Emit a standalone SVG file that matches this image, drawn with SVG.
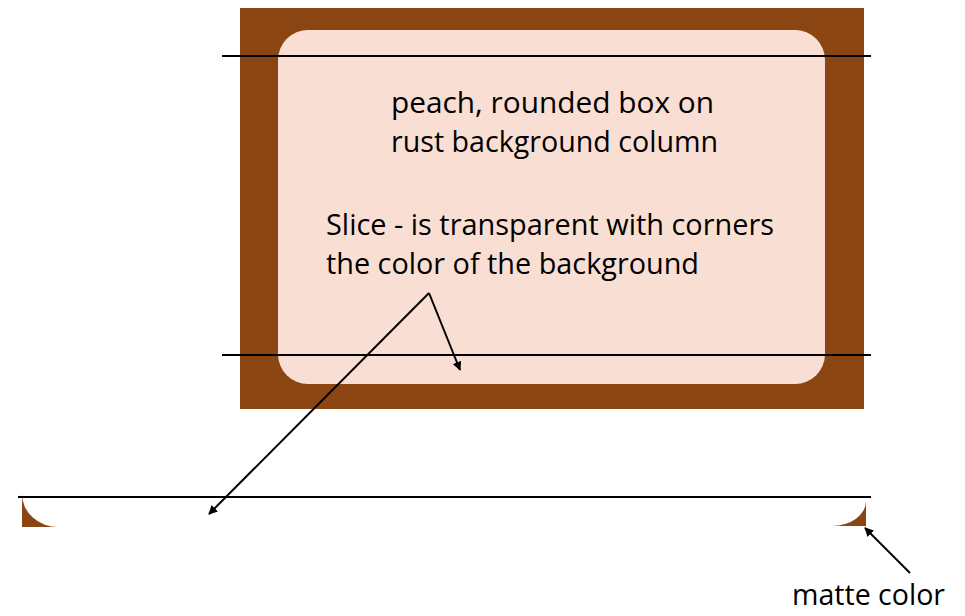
<svg xmlns="http://www.w3.org/2000/svg" width="965" height="616" viewBox="0 0 965 616">
  <defs>
    <style>
      .rust { fill: #8B4513; }
      .peach { fill: #F9DED3; }
      .rule { stroke: #000; stroke-width: 2; fill: none; }
      .arrow { stroke: #000; stroke-width: 2; fill: none; marker-end: url(#head); }
      .label { font-family: "Open Sans", "Liberation Sans", Arial, sans-serif; font-size: 29px; fill: #000; }
    </style>
    <marker id="head" viewBox="0 0 10 10" refX="9" refY="5" markerWidth="9" markerHeight="9" markerUnits="userSpaceOnUse" orient="auto">
      <path d="M0,0 L10,5 L0,10 z" fill="#000"/>
    </marker>
  </defs>

  <!-- rust background column with the peach rounded box -->
  <g id="column">
    <rect class="rust" x="240" y="8" width="624" height="401"/>
    <rect class="peach" x="278" y="30" width="547" height="354" rx="30" ry="30"/>
  </g>

  <!-- slice strip: transparent with matte corners -->
  <g id="slice-corners">
    <path class="rust" d="M22,494 L22,527 L58,527 A36,33 0 0 1 22,494 Z"/>
    <path class="rust" d="M866,501 L866,526 L832,526 A34,25 0 0 0 866,501 Z"/>
  </g>

  <g id="guides">
    <line class="rule" x1="222" y1="56" x2="871" y2="56"/>
    <line class="rule" x1="222" y1="355" x2="871" y2="355"/>
    <line class="rule" x1="18" y1="497" x2="871" y2="497"/>
  </g>

  <g id="text-box">
    <text class="label" x="391" y="113" textLength="323" lengthAdjust="spacingAndGlyphs">peach, rounded box on</text>
    <text class="label" x="391" y="152" textLength="327" lengthAdjust="spacingAndGlyphs">rust background column</text>
  </g>

  <g id="text-slice">
    <text class="label" x="326" y="235" textLength="448" lengthAdjust="spacingAndGlyphs">Slice - is transparent with corners</text>
    <text class="label" x="326" y="274" textLength="373" lengthAdjust="spacingAndGlyphs">the color of the background</text>
  </g>

  <g id="text-matte">
    <text class="label" x="792" y="605" textLength="153" lengthAdjust="spacingAndGlyphs">matte color</text>
  </g>

  <g id="connectors">
    <line class="arrow" x1="429" y1="293" x2="460" y2="370"/>
    <line class="arrow" x1="429" y1="293" x2="209" y2="514"/>
    <line class="arrow" x1="910" y1="573" x2="865" y2="528"/>
  </g>
</svg>
